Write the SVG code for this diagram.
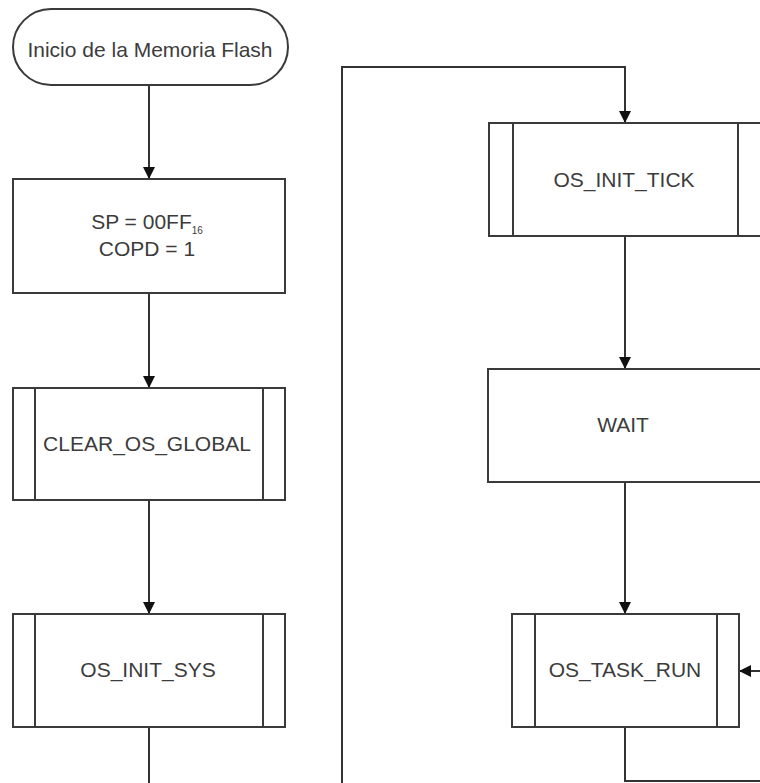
<svg xmlns="http://www.w3.org/2000/svg" width="760" height="783" viewBox="0 0 760 783">
  <style>
    .shape { fill: #ffffff; stroke: #3a3a3a; stroke-width: 2; }
    .bar { stroke: #3a3a3a; stroke-width: 2; fill: none; }
    .wire { stroke: #333333; stroke-width: 2; fill: none; }
    .label { font-family: "Liberation Sans", Arial, sans-serif; font-size: 21px; fill: #3c3c3c; text-anchor: middle; }
  </style>
  <defs>
    <marker id="arrow" viewBox="0 0 12 12" refX="12" refY="6" markerWidth="12" markerHeight="12" markerUnits="userSpaceOnUse" orient="auto">
      <path d="M0,0 L12,6 L0,12 z" fill="#111111"/>
    </marker>
  </defs>
  <rect width="760" height="783" fill="#ffffff"/>

  <g id="connectors">
    <line class="wire" x1="149" y1="85" x2="149" y2="179" marker-end="url(#arrow)"/>
    <line class="wire" x1="149" y1="293" x2="149" y2="388" marker-end="url(#arrow)"/>
    <line class="wire" x1="149" y1="500" x2="149" y2="614" marker-end="url(#arrow)"/>
    <line class="wire" x1="149" y1="727" x2="149" y2="783"/>
    <polyline class="wire" points="342,783 342,67 625,67 625,123" marker-end="url(#arrow)"/>
    <line class="wire" x1="625" y1="236" x2="625" y2="369" marker-end="url(#arrow)"/>
    <line class="wire" x1="625" y1="482" x2="625" y2="614" marker-end="url(#arrow)"/>
    <polyline class="wire" points="625,727 625,781 762,781"/>
    <line class="wire" x1="762" y1="671" x2="739" y2="671" marker-end="url(#arrow)"/>
  </g>

  <g id="inicio">
    <rect class="shape" x="13" y="9" width="275" height="76" rx="38" ry="38"/>
    <text class="label" x="150" y="57">Inicio de la Memoria Flash</text>
  </g>

  <g id="sp-copd">
    <rect class="shape" x="13" y="179" width="272" height="114"/>
    <text class="label" x="147" y="229">SP = 00FF<tspan font-size="10" dy="5">16</tspan></text>
    <text class="label" x="147" y="256">COPD = 1</text>
  </g>

  <g id="clear-os-global">
    <rect class="shape" x="13" y="388" width="272" height="112"/>
    <line class="bar" x1="35" y1="388" x2="35" y2="500"/>
    <line class="bar" x1="263" y1="388" x2="263" y2="500"/>
    <text class="label" x="147" y="451">CLEAR_OS_GLOBAL</text>
  </g>

  <g id="os-init-sys">
    <rect class="shape" x="13" y="614" width="272" height="113"/>
    <line class="bar" x1="35" y1="614" x2="35" y2="727"/>
    <line class="bar" x1="263" y1="614" x2="263" y2="727"/>
    <text class="label" x="148" y="677">OS_INIT_SYS</text>
  </g>

  <g id="os-init-tick">
    <rect class="shape" x="489" y="123" width="273" height="113"/>
    <line class="bar" x1="513" y1="123" x2="513" y2="236"/>
    <line class="bar" x1="738" y1="123" x2="738" y2="236"/>
    <text class="label" x="624" y="187">OS_INIT_TICK</text>
  </g>

  <g id="wait">
    <rect class="shape" x="488" y="369" width="274" height="113"/>
    <text class="label" x="623" y="432">WAIT</text>
  </g>

  <g id="os-task-run">
    <rect class="shape" x="512" y="614" width="227" height="113"/>
    <line class="bar" x1="535" y1="614" x2="535" y2="727"/>
    <line class="bar" x1="717" y1="614" x2="717" y2="727"/>
    <text class="label" x="625" y="677">OS_TASK_RUN</text>
  </g>
</svg>
